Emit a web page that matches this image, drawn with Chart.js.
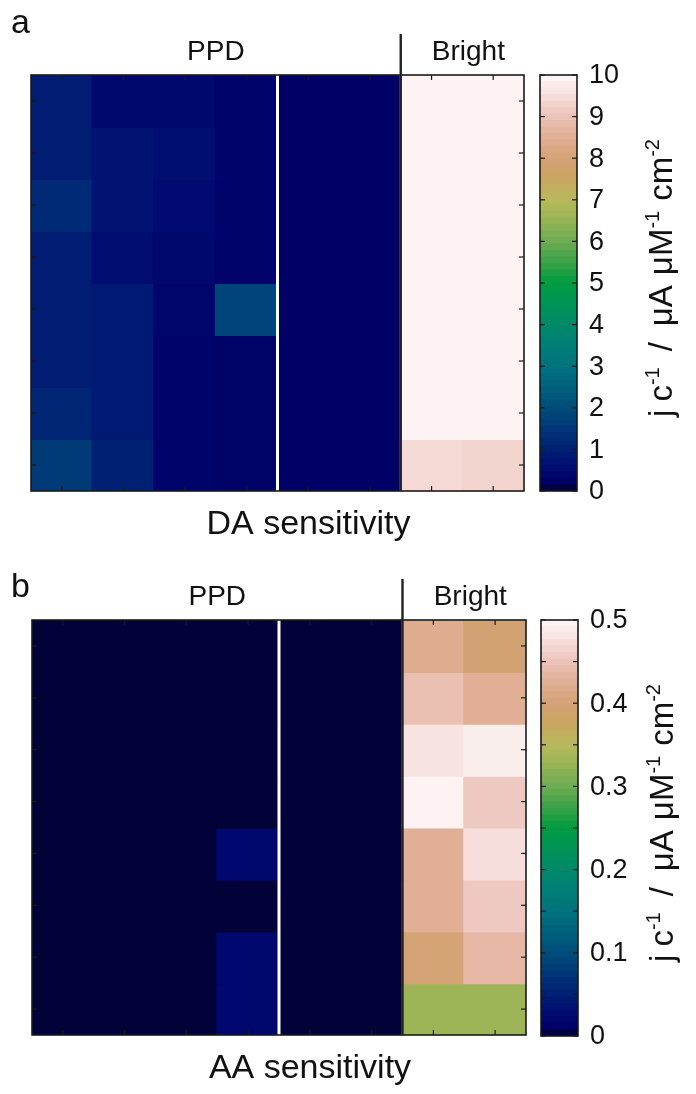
<!DOCTYPE html>
<html>
<head>
<meta charset="utf-8">
<script src="https://cdn.jsdelivr.net/npm/chart.js@4.4.1/dist/chart.umd.min.js"></script>
<style>
  html, body { margin: 0; padding: 0; background: #fff; }
  .panel { position: absolute; left: 0; width: 696px; height: 547px; }
  .panel canvas { position: absolute; top: 0; }
</style>
</head>
<body>
<div class="panel" style="top:0">
  <canvas id="heat-a" width="696" height="547" style="left:0"></canvas>
  <canvas id="cbar-a" width="166" height="547" style="left:530px"></canvas>
</div>
<div class="panel" style="top:545px">
  <canvas id="heat-b" width="696" height="547" style="left:0"></canvas>
  <canvas id="cbar-b" width="166" height="547" style="left:530px"></canvas>
</div>
<script>
Chart.defaults.font.family = '"Liberation Sans", Arial, sans-serif';

// electrodes (columns) and repeat measurements (rows, top to bottom)
const columns = ['PPD 1', 'PPD 2', 'PPD 3', 'PPD 4', 'PPD 5', 'PPD 6', 'Bright 1', 'Bright 2'];
const rows = ['1', '2', '3', '4', '5', '6', '7', '8'];
const groupNames = ['PPD', 'Bright'];
const groupStart = [0, 6];
const groupEnd = [5, 7];
const whiteDivider = 4;

// j c^-1 in uA uM^-1 cm^-2
const daSensitivity = [
  [0.9, 0.4, 0.4, 0.3, 0.2, 0.2, 9.9, 9.9],
  [0.9, 0.7, 0.6, 0.3, 0.2, 0.2, 9.9, 9.9],
  [1.2, 0.7, 0.5, 0.3, 0.2, 0.2, 9.9, 9.9],
  [0.9, 0.55, 0.4, 0.3, 0.2, 0.2, 9.9, 9.9],
  [0.9, 0.85, 0.35, 1.8, 0.2, 0.2, 9.9, 9.9],
  [0.9, 0.85, 0.3, 0.25, 0.2, 0.2, 9.9, 9.9],
  [1.1, 0.85, 0.3, 0.25, 0.2, 0.2, 9.9, 9.9],
  [1.6, 1.0, 0.3, 0.25, 0.2, 0.2, 9.4, 9.3]
];
const aaSensitivity = [
  [0.002, 0.002, 0.002, 0.002, 0.002, 0.002, 0.42, 0.395],
  [0.002, 0.002, 0.002, 0.002, 0.002, 0.002, 0.445, 0.425],
  [0.002, 0.002, 0.002, 0.002, 0.002, 0.002, 0.48, 0.49],
  [0.002, 0.002, 0.002, 0.002, 0.002, 0.002, 0.495, 0.455],
  [0.002, 0.002, 0.002, 0.02, 0.002, 0.002, 0.425, 0.475],
  [0.002, 0.002, 0.002, 0.002, 0.002, 0.002, 0.425, 0.455],
  [0.002, 0.002, 0.002, 0.02, 0.002, 0.002, 0.40, 0.435],
  [0.002, 0.002, 0.002, 0.02, 0.002, 0.002, 0.33, 0.33]
];

// colour bar ticks
const daTicks = [0, 1, 2, 3, 4, 5, 6, 7, 8, 9, 10];
const daTickLabels = ['0', '1', '2', '3', '4', '5', '6', '7', '8', '9', '10'];
const aaTicks = [0, 0.05, 0.1, 0.15, 0.2, 0.25, 0.3, 0.35, 0.4, 0.45, 0.5];
const aaLabelTicks = [0, 0.1, 0.2, 0.3, 0.4, 0.5];
const aaTickLabels = ['0', '0.1', '0.2', '0.3', '0.4', '0.5'];

// gist_earth-like colour map
const cmapStops = [0, 0.02, 0.05, 0.1, 0.15, 0.2, 0.25, 0.3, 0.35, 0.4, 0.45, 0.5, 0.55, 0.6, 0.65, 0.7, 0.75, 0.8, 0.85, 0.9, 0.95, 1];
const cmapColors = [
  [2, 2, 44], [0, 0, 102], [0, 10, 112], [0, 32, 116], [0, 55, 120], [0, 77, 122],
  [0, 97, 124], [0, 115, 126], [0, 127, 118], [0, 137, 105], [0, 147, 85], [0, 156, 65],
  [60, 162, 72], [110, 172, 82], [150, 180, 86], [184, 186, 92], [200, 165, 98],
  [212, 163, 118], [224, 175, 150], [236, 196, 186], [246, 222, 220], [253, 248, 248]
];

function cmap(t) {
  t = Math.min(1, Math.max(0, t));
  let i = 1;
  while (i < cmapStops.length - 1 && cmapStops[i] < t) i++;
  const f = (t - cmapStops[i - 1]) / (cmapStops[i] - cmapStops[i - 1]);
  const c0 = cmapColors[i - 1], c1 = cmapColors[i];
  const c = c0.map((v, k) => Math.round(v + (c1[k] - v) * f));
  return `rgb(${c[0]}, ${c[1]}, ${c[2]})`;
}

function line(ctx, x0, y0, x1, y1) {
  ctx.beginPath();
  ctx.moveTo(x0, y0);
  ctx.lineTo(x1, y1);
  ctx.stroke();
}

const heatDecor = {
  id: 'heatDecor',
  afterDatasetsDraw(chart, args, opts) {
    const {ctx, chartArea: a, scales: {x, y}} = chart;
    const half = (x.getPixelForValue(1) - x.getPixelForValue(0)) / 2;
    const edge = i => x.getPixelForValue(i) - half;
    ctx.save();
    ctx.strokeStyle = '#fff';
    ctx.lineWidth = 3;
    line(ctx, edge(whiteDivider), a.top, edge(whiteDivider), a.bottom);

    ctx.strokeStyle = '#1a1a1a';
    ctx.lineWidth = 1.6;
    ctx.strokeRect(a.left, a.top, a.width, a.height);
    ctx.lineWidth = 1.2;
    columns.forEach((c, i) => {
      const px = x.getPixelForValue(i);
      line(ctx, px, a.top, px, a.top + 5);
      line(ctx, px, a.bottom, px, a.bottom - 5);
    });
    rows.forEach((r, i) => {
      const py = y.getPixelForValue(i + 0.5);
      line(ctx, a.left, py, a.left + 5, py);
      line(ctx, a.right, py, a.right - 5, py);
    });

    // PPD | Bright separator, runs above the plot
    const gx = edge(groupStart[1]);
    ctx.strokeStyle = '#222';
    ctx.lineWidth = 2.4;
    line(ctx, gx, a.top - 41, gx, a.bottom);

    ctx.fillStyle = '#111';
    ctx.textBaseline = 'alphabetic';
    ctx.textAlign = 'center';
    ctx.font = '28px "Liberation Sans"';
    groupNames.forEach((name, g) => {
      const cx = (edge(groupStart[g]) + edge(groupEnd[g] + 1)) / 2 + (g === 1 ? 6 : 0);
      ctx.fillText(name, cx, a.top - 15);
    });
    ctx.font = '34px "Liberation Sans"';
    ctx.fillText(opts.title, (a.left + a.right) / 2 + 31, a.bottom + 43);
    ctx.textAlign = 'left';
    ctx.fillText(opts.letter, 11, opts.letterY);
    ctx.restore();
  }
};

const barDecor = {
  id: 'barDecor',
  afterDatasetsDraw(chart, args, opts) {
    const {ctx, chartArea: a, scales: {y}} = chart;
    ctx.save();
    ctx.strokeStyle = '#1a1a1a';
    ctx.lineWidth = 1.6;
    ctx.strokeRect(a.left, a.top, a.width, a.height);
    ctx.lineWidth = 1.2;
    opts.ticks.forEach(v => {
      const py = y.getPixelForValue(v);
      line(ctx, a.left, py, a.left + 5, py);
      line(ctx, a.right, py, a.right - 5, py);
    });
    ctx.fillStyle = '#111';
    ctx.font = '27px "Liberation Sans"';
    ctx.textAlign = 'left';
    ctx.textBaseline = 'middle';
    opts.labelValues.forEach((v, i) => ctx.fillText(opts.labels[i], a.right + 12, y.getPixelForValue(v) + 1));

    // unit label, rotated, with superscripts
    const pieces = [
      ['j', 0, 0], ['c', 0, 8], ['-1', 1, 0], ['/', 0, 16], ['\u03bcA', 0, 16], ['\u03bcM', 0, 10],
      ['-1', 1, 0], ['cm', 0, 10], ['-2', 1, 0]
    ];
    const main = '33px "Liberation Sans"', sup = '20px "Liberation Sans"';
    let total = 0;
    pieces.forEach(([t, s, gap]) => { ctx.font = s ? sup : main; total += gap + ctx.measureText(t).width; });
    ctx.translate(a.right + 95, (a.top + a.bottom) / 2 - 5);
    ctx.rotate(-Math.PI / 2);
    ctx.textBaseline = 'alphabetic';
    let px = -total / 2;
    pieces.forEach(([t, s, gap]) => {
      ctx.font = s ? sup : main;
      px += gap;
      ctx.fillText(t, px, s ? -13 : 0);
      px += ctx.measureText(t).width;
    });
    ctx.restore();
  }
};

function heatmap(id, values, vmax, pad, decor) {
  const datasets = rows.map((row, r) => ({
    label: 'Row ' + row,
    data: columns.map(() => 1),
    sensitivity: values[r],
    backgroundColor: values[r].map(v => cmap(v / vmax)),
    borderWidth: 0,
    inflateAmount: 1,
    barPercentage: 1,
    categoryPercentage: 1
  }));
  return new Chart(document.getElementById(id), {
    type: 'bar',
    data: {labels: columns, datasets},
    options: {
      responsive: false,
      animation: false,
      layout: {padding: pad},
      scales: {
        x: {display: false, stacked: true},
        y: {display: false, stacked: true, reverse: true, min: 0, max: rows.length}
      },
      plugins: {
        legend: {display: false},
        tooltip: {
          callbacks: {
            label: c => `${c.dataset.label}: ${c.dataset.sensitivity[c.dataIndex]}`
          }
        },
        heatDecor: decor
      }
    },
    plugins: [heatDecor]
  });
}

function colorbar(id, vmax, pad, decor) {
  const n = 64;
  const datasets = [];
  for (let i = 0; i < n; i++) {
    datasets.push({
      data: [vmax / n],
      backgroundColor: cmap((i + 0.5) / n),
      borderWidth: 0,
      inflateAmount: 0.6,
      barPercentage: 1,
      categoryPercentage: 1
    });
  }
  return new Chart(document.getElementById(id), {
    type: 'bar',
    data: {labels: ['scale'], datasets},
    options: {
      responsive: false,
      animation: false,
      layout: {padding: pad},
      scales: {
        x: {display: false, stacked: true},
        y: {display: false, stacked: true, min: 0, max: vmax}
      },
      plugins: {legend: {display: false}, tooltip: {enabled: false}, barDecor: decor}
    },
    plugins: [barDecor]
  });
}

heatmap('heat-a', daSensitivity, 10, {left: 31, top: 75, right: 172, bottom: 56},
  {title: 'DA sensitivity', letter: 'a', letterY: 33});
colorbar('cbar-a', 10, {left: 10, top: 75, right: 119, bottom: 56},
  {ticks: daTicks, labelValues: daTicks, labels: daTickLabels});

heatmap('heat-b', aaSensitivity, 0.5, {left: 32, top: 75, right: 170, bottom: 57},
  {title: 'AA sensitivity', letter: 'b', letterY: 52});
colorbar('cbar-b', 0.5, {left: 11, top: 75, right: 118, bottom: 56},
  {ticks: aaTicks, labelValues: aaLabelTicks, labels: aaTickLabels});
</script>
</body>
</html>
